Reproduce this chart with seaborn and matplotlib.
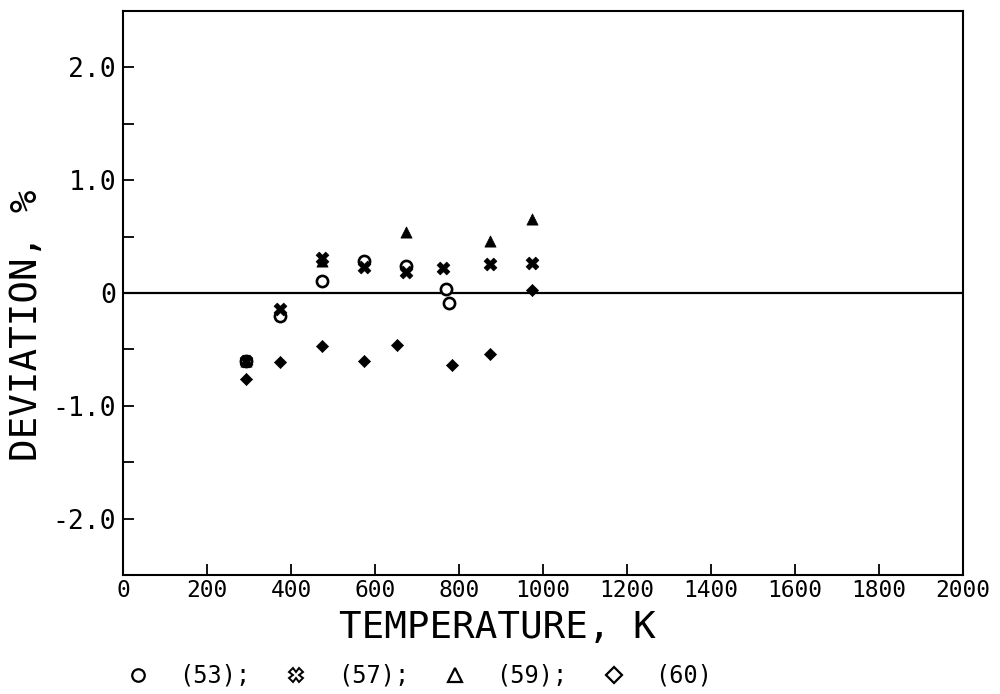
import matplotlib
matplotlib.use("Agg")
import matplotlib.pyplot as plt
import seaborn as sns
import pandas as pd
from matplotlib.lines import Line2D

# ---- data ----
T53 = [293, 373, 473, 573, 673, 768, 776]
D53 = [-0.60, -0.20, 0.11, 0.28, 0.24, 0.04, -0.09]
T57 = [293, 373, 473, 573, 673, 763, 873, 973]
D57 = [-0.60, -0.14, 0.31, 0.23, 0.19, 0.22, 0.26, 0.27]
T59 = [293, 473, 673, 873, 973]
D59 = [-0.60, 0.28, 0.54, 0.46, 0.66]
T60 = [293, 373, 473, 573, 653, 783, 873, 973]
D60 = [-0.76, -0.61, -0.47, -0.60, -0.46, -0.64, -0.54, 0.03]
series_labels = ["(53);", "(57);", "(59);", "(60)"]
xticks = [0, 200, 400, 600, 800, 1000, 1200, 1400, 1600, 1800, 2000]
yticks_major = [-2.0, -1.0, 0.0, 1.0, 2.0]
ytick_labels = ["-2.0", "-1.0", "0", "1.0", "2.0"]
yticks_minor = [-1.5, -0.5, 0.5, 1.5]

sns.set_style("ticks")
plt.rcParams["font.family"] = ["DejaVu Sans Mono", "DejaVu Sans"]
plt.rcParams["text.color"] = "black"
plt.rcParams["axes.labelcolor"] = "black"
plt.rcParams["xtick.color"] = "black"
plt.rcParams["ytick.color"] = "black"

fig = plt.figure(figsize=(10, 6.94), dpi=100)
ax = fig.add_axes([0.123, 0.1715, 0.840, 0.8125])

ax.axhline(0, color="black", lw=1.6, zorder=1)

df53 = pd.DataFrame({"T": T53, "D": D53})
df57 = pd.DataFrame({"T": T57, "D": D57})
df59 = pd.DataFrame({"T": T59, "D": D59})
df60 = pd.DataFrame({"T": T60, "D": D60})

sns.scatterplot(data=df53, x="T", y="D", ax=ax, marker="o", s=65,
                facecolor="white", edgecolor="black", linewidth=1.9, zorder=3)
sns.scatterplot(data=df57, x="T", y="D", ax=ax, marker="X", s=85,
                color="black", edgecolor="black", linewidth=0.5, zorder=4)
sns.scatterplot(data=df59, x="T", y="D", ax=ax, marker="^", s=65,
                color="black", edgecolor="black", linewidth=0.5, zorder=4)
sns.scatterplot(data=df60, x="T", y="D", ax=ax, marker="D", s=38,
                color="black", edgecolor="black", linewidth=0.5, zorder=4)

ax.set_xlim(0, 2000)
ax.set_ylim(-2.5, 2.5)
ax.set_xticks(xticks)
ax.set_xticklabels([str(v) for v in xticks], fontsize=16.5)
ax.set_yticks(yticks_major)
ax.set_yticklabels(ytick_labels, fontsize=19)
ax.set_yticks(yticks_minor, minor=True)
ax.tick_params(axis="both", which="both", direction="in", length=8, width=1.3,
               color="black", labelcolor="black")
ax.tick_params(axis="x", pad=3)
ax.tick_params(axis="y", pad=5)
ax.tick_params(axis="x", which="both", top=False)
ax.tick_params(axis="y", which="both", right=False)
for sp in ax.spines.values():
    sp.set_visible(True)
    sp.set_linewidth(1.5)
    sp.set_color("black")

ax.set_xlabel("TEMPERATURE, K", fontsize=27, color="black")
ax.set_ylabel("DEVIATION, %", fontsize=27, color="black")
ax.xaxis.set_label_coords((497 - 123) / 840, -(628 - 575) / 564, transform=ax.transAxes)
ax.yaxis.set_label_coords(-(123 - 27) / 840, (575 - 325) / 564, transform=ax.transAxes)
ax.xaxis.label.set_va("center")
ax.yaxis.label.set_va("center")

handles = [
    Line2D([], [], ls="none", marker="o", ms=9, mfc="white", mec="black", mew=1.6),
    Line2D([], [], ls="none", marker="X", ms=10, mfc="white", mec="black", mew=1.4),
    Line2D([], [], ls="none", marker="^", ms=10, mfc="white", mec="black", mew=1.6),
    Line2D([], [], ls="none", marker="D", ms=8, mfc="white", mec="black", mew=1.6),
]
leg = fig.legend(handles, series_labels, loc="center", bbox_to_anchor=(0.419, 1 - 676 / 694),
                 ncol=4, frameon=False, fontsize=17, handlelength=1.0, handletextpad=1.25,
                 columnspacing=1.45, borderpad=0.1)
for t in leg.get_texts():
    t.set_color("black")

fig.savefig("out.png", dpi=100, facecolor="white")
